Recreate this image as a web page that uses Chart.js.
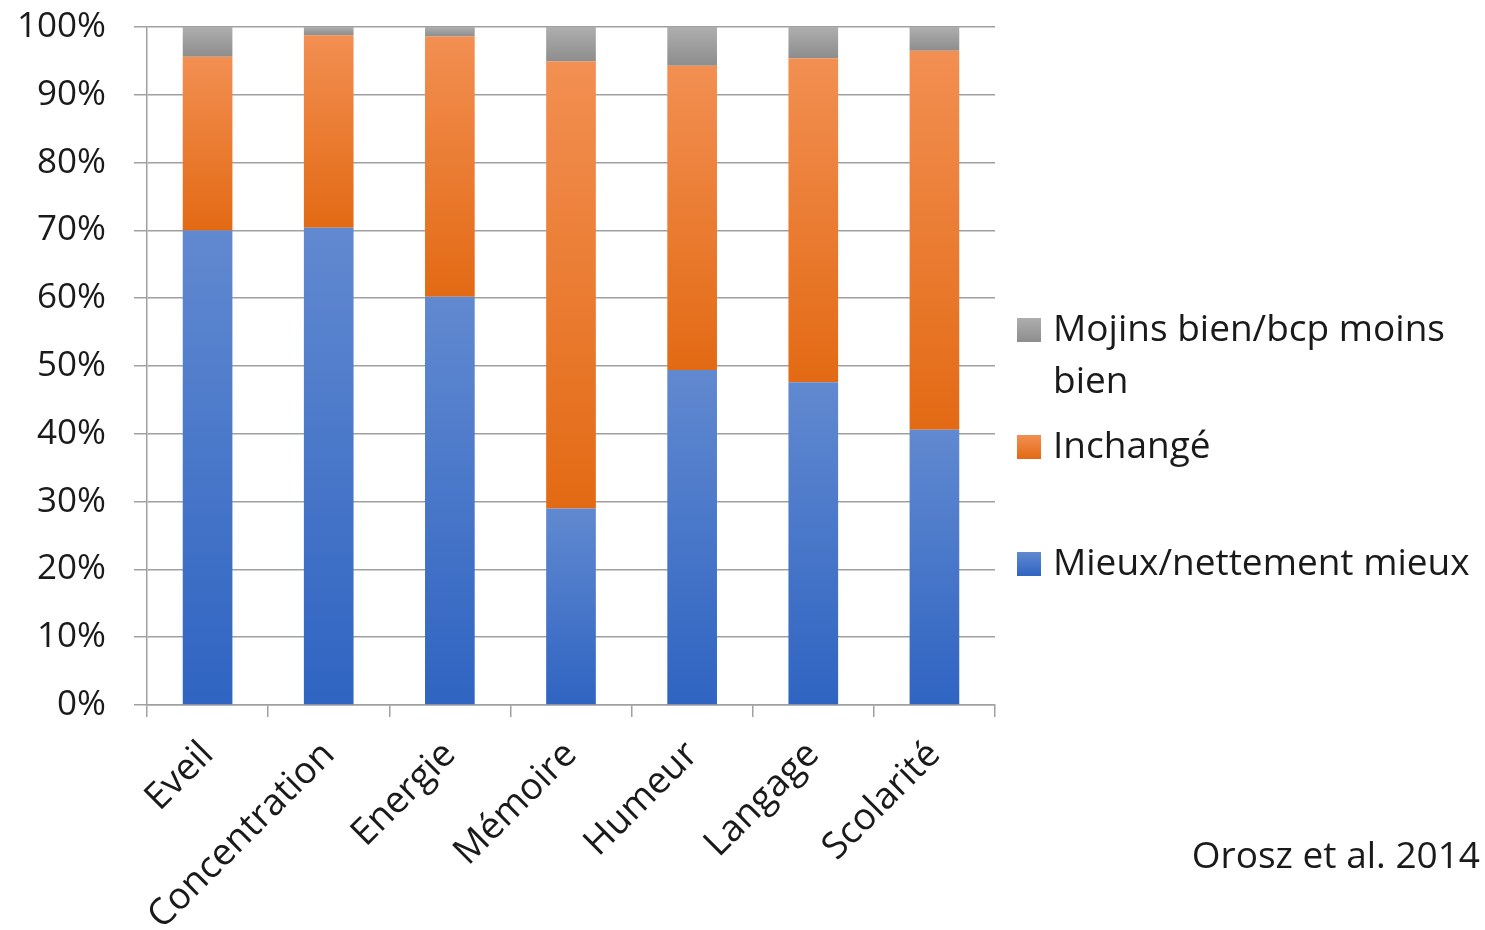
<!DOCTYPE html>
<html>
<head>
<meta charset="utf-8">
<script src="https://cdn.jsdelivr.net/npm/chart.js@4"></script>
<style>
  html, body { margin: 0; padding: 0; background: #fff; }
  #wrap { width: 1485px; height: 930px; }
</style>
</head>
<body>
<div id="wrap"><canvas id="myChart" width="1485" height="930"></canvas></div>
<script>
// data
const categories = ['Eveil', 'Concentration', 'Energie', 'Mémoire', 'Humeur', 'Langage', 'Scolarité'];
const mieux = [70.0, 70.4, 60.2, 29.0, 49.4, 47.6, 40.6];
const inchange = [25.6, 28.4, 38.4, 65.9, 44.9, 47.8, 55.9];
const moins = [4.4, 1.2, 1.4, 5.1, 5.7, 4.6, 3.5];
const seriesNames = ['Mieux/nettement mieux', 'Inchangé', 'Mojins bien/bcp moins bien'];
const yTicks = [0, 10, 20, 30, 40, 50, 60, 70, 80, 90, 100];
const source = 'Orosz et al. 2014';

const FONT = '"Open Sans", "Noto Sans", sans-serif';
const series = [mieux, inchange, moins];
const shades = [
    ['#6189d0', '#2f64c2'],
    ['#f28f52', '#e36a14'],
    ['#aeaeae', '#8d8d8d']
];

// each stacked segment gets its own top-to-bottom gradient, like the original
makeFill = (k) => {
    return (ctx) => {
        const chart = ctx.chart;
        const y = chart.scales.y;
        if (!y || !chart.chartArea || ctx.dataIndex === undefined) return shades[k][1];
        let base = 0;
        for (let j = 0; j < k; j++) base += series[j][ctx.dataIndex];
        const top = y.getPixelForValue(base + series[k][ctx.dataIndex]);
        const bottom = y.getPixelForValue(base);
        if (!isFinite(top) || !isFinite(bottom) || top === bottom) return shades[k][1];
        const g = chart.ctx.createLinearGradient(0, top, 0, bottom);
        g.addColorStop(0, shades[k][0]);
        g.addColorStop(1, shades[k][1]);
        return g;
    };
};

const sideLegend = {
    id: 'sideLegend',
    afterDraw(chart) {
        const c = chart.ctx;
        c.save();
        c.font = '37px ' + FONT;
        c.textBaseline = 'middle';
        c.fillStyle = '#1a1a1a';
        // top to bottom: reversed dataset order
        const rows = [
            { k: 2, y: 330 },
            { k: 1, y: 447 },
            { k: 0, y: 564 }
        ];
        rows.forEach(r => {
            const sq = c.createLinearGradient(0, r.y - 12, 0, r.y + 12);
            sq.addColorStop(0, shades[r.k][0]);
            sq.addColorStop(1, shades[r.k][1]);
            c.fillStyle = sq;
            c.fillRect(1017, r.y - 12, 24, 24);
            c.fillStyle = '#1a1a1a';
            // simple word wrap
            const words = chart.data.datasets[r.k].label.split(' ');
            let line = '', ly = r.y;
            words.forEach(w => {
                const test = line ? line + ' ' + w : w;
                if (c.measureText(test).width > 425 && line) {
                    c.fillText(line, 1053, ly);
                    line = w;
                    ly += 52;
                } else {
                    line = test;
                }
            });
            c.fillText(line, 1053, ly);
        });
        c.font = '37px ' + FONT;
        c.textAlign = 'right';
        c.fillText(source, 1480, 857);
        c.restore();
    }
};

const ctx = document.getElementById('myChart').getContext('2d');
new Chart(ctx, {
    type: 'bar',
    data: {
        labels: categories,
        datasets: series.map((d, k) => ({
            label: seriesNames[k],
            data: d,
            backgroundColor: makeFill(k),
            borderWidth: 0,
            barPercentage: 0.41,
            categoryPercentage: 1
        }))
    },
    options: {
        responsive: false,
        animation: false,
        layout: { padding: { top: 27, right: 490, bottom: 0, left: 0 } },
        plugins: {
            legend: { display: false },
            tooltip: { enabled: false }
        },
        scales: {
            x: {
                stacked: true,
                grid: {
                    offset: true,
                    drawOnChartArea: false,
                    drawTicks: true,
                    tickLength: 12,
                    color: '#a0a0a0',
                    lineWidth: 1.5
                },
                border: { color: '#a0a0a0', width: 1.5 },
                ticks: {
                    maxRotation: 45,
                    minRotation: 45,
                    padding: 16,
                    color: '#1a1a1a',
                    font: { family: FONT, size: 37 }
                },
                afterFit: (s) => { s.height = 225; }
            },
            y: {
                stacked: true,
                min: 0,
                max: 100,
                afterBuildTicks: (s) => { s.ticks = yTicks.map(v => ({ value: v })); },
                grid: {
                    color: '#a0a0a0',
                    lineWidth: 1.5,
                    tickLength: 13
                },
                border: { color: '#a0a0a0', width: 1.5 },
                ticks: {
                    padding: 28,
                    color: '#1a1a1a',
                    font: { family: FONT, size: 35 },
                    callback: (v) => v + '%'
                },
                afterFit: (s) => {
                    s.width = 147;
                    s.paddingTop = 0;
                    s.paddingBottom = 0;
                }
            }
        }
    },
    plugins: [sideLegend]
});
</script>
</body>
</html>
